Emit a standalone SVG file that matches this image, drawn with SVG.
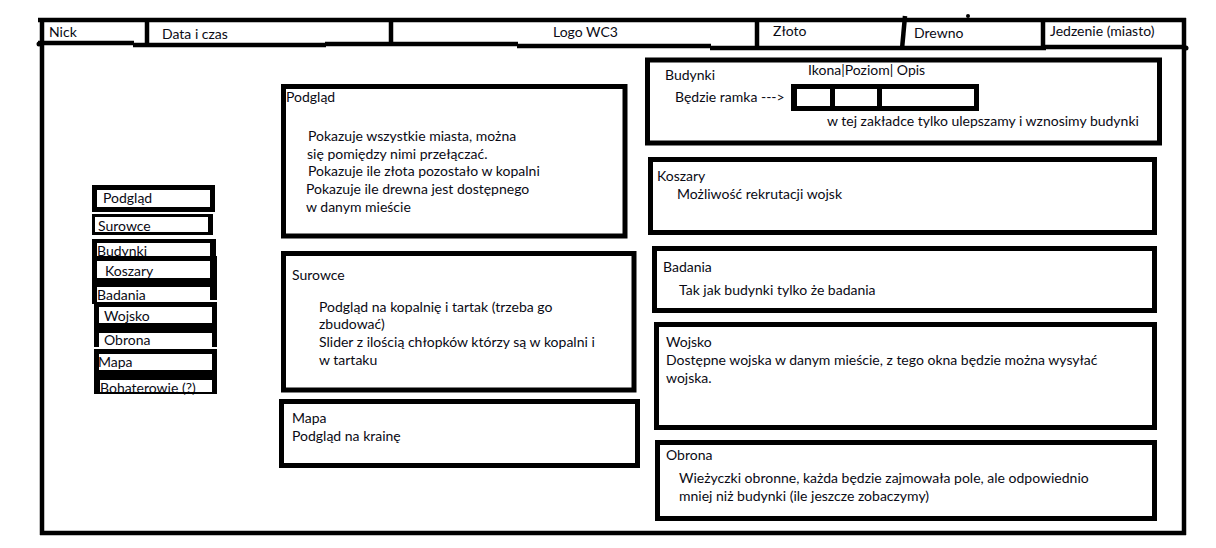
<svg xmlns="http://www.w3.org/2000/svg" width="1216" height="548" viewBox="0 0 1216 548">
<style>
.ln{stroke:#000;stroke-width:4.5;fill:none;stroke-linecap:butt}
.box{fill:#fff;stroke:#000;stroke-width:5}
.blk{fill:#000}
.wht{fill:#fff}
.t{font-family:Lato,"Liberation Sans",sans-serif;font-size:14px;fill:#0a0a14}
</style>
<rect x="0" y="0" width="1216" height="548" fill="#fff"/>

<g id="frame">
  <line class="ln" x1="38" y1="20" x2="1186" y2="20"/>
  <line class="ln" x1="42" y1="18" x2="42" y2="535"/>
  <line class="ln" x1="1184" y1="18" x2="1184" y2="535"/>
  <line class="ln" x1="40" y1="533" x2="1186" y2="533"/>
  <circle cx="39" cy="44" r="2.5" class="blk"/>
  <circle cx="968" cy="16" r="2" class="blk"/>
  <circle cx="1186" cy="48" r="2.5" class="blk"/>
</g>

<g id="topbar">
  <line class="ln" x1="38" y1="43" x2="134" y2="43"/>
  <line class="ln" x1="133" y1="45" x2="326" y2="45"/>
  <line class="ln" x1="325" y1="44" x2="518" y2="44"/>
  <line class="ln" x1="517" y1="46" x2="711" y2="46"/>
  <line class="ln" x1="710" y1="48" x2="1046" y2="48"/>
  <line class="ln" x1="1045" y1="47" x2="1186" y2="47"/>
  <line class="ln" x1="147" y1="18" x2="147" y2="45"/>
  <line class="ln" x1="391" y1="18" x2="391" y2="46"/>
  <line class="ln" x1="757" y1="18" x2="757" y2="48"/>
  <line class="ln" x1="905" y1="16" x2="902" y2="49"/>
  <line class="ln" x1="1043" y1="18" x2="1043" y2="50"/>
  <text class="t" x="49" y="37">Nick</text>
  <text class="t" x="162" y="39">Data i czas</text>
  <text class="t" x="553" y="37">Logo WC3</text>
  <text class="t" x="773" y="36">Złoto</text>
  <text class="t" x="914" y="38">Drewno</text>
  <text class="t" x="1050" y="36">Jedzenie (miasto)</text>
</g>

<g id="menu">
  <rect class="blk" x="92" y="185" width="123" height="27"/>
  <rect class="wht" x="97" y="190" width="113" height="17"/>
  <text class="t" x="103" y="203">Podgląd</text>

  <rect class="blk" x="92" y="214" width="121" height="21"/>
  <rect class="wht" x="95" y="217" width="113" height="15"/>
  <text class="t" x="98" y="231">Surowce</text>

  <rect class="blk" x="92" y="239" width="124" height="20"/>
  <rect class="wht" x="97" y="243" width="113" height="16"/>
  <text class="t" x="97" y="256">Budynki</text>

  <rect class="blk" x="92" y="256" width="125" height="44"/>
  <rect class="blk" x="92" y="296" width="5" height="8"/>
  <rect class="wht" x="97" y="261" width="113" height="17"/>
  <text class="t" x="105" y="276">Koszary</text>
  <rect class="wht" x="97" y="287" width="113" height="16"/>
  <text class="t" x="97" y="300">Badania</text>

  <rect class="blk" x="94" y="302" width="123" height="45"/>
  <rect class="wht" x="99" y="307" width="113" height="16"/>
  <text class="t" x="104" y="321">Wojsko</text>
  <rect class="wht" x="99" y="333" width="113" height="14"/>
  <text class="t" x="104" y="345">Obrona</text>

  <rect class="blk" x="94" y="349" width="123" height="45"/>
  <rect class="wht" x="99" y="354" width="113" height="16"/>
  <text class="t" x="98" y="367">Mapa</text>
  <rect class="wht" x="100" y="380" width="112" height="12"/>
  <text class="t" x="100" y="393">Bohaterowie (?)</text>
  <rect class="blk" x="97" y="392" width="120" height="2"/>
</g>

<g id="podglad">
  <rect class="box" x="283.5" y="86.5" width="341.5" height="149.5"/>
  <text class="t" x="286" y="102">Podgląd</text>
  <text class="t" x="308" y="141">Pokazuje wszystkie miasta, można</text>
  <text class="t" x="307" y="159">się pomiędzy nimi przełączać.</text>
  <text class="t" x="308" y="176">Pokazuje ile złota pozostało w kopalni</text>
  <text class="t" x="306" y="194">Pokazuje ile drewna jest dostępnego</text>
  <text class="t" x="306" y="212">w danym mieście</text>
</g>

<g id="surowce">
  <rect class="box" x="283.5" y="253.5" width="350.5" height="136.5"/>
  <text class="t" x="292" y="280">Surowce</text>
  <text class="t" x="319" y="312">Podgląd na kopalnię i tartak (trzeba go</text>
  <text class="t" x="319" y="329">zbudować)</text>
  <text class="t" x="319" y="347">Slider z ilością chłopków którzy są w kopalni i</text>
  <text class="t" x="319" y="365">w tartaku</text>
</g>

<g id="mapa">
  <rect class="box" x="281.5" y="401.5" width="356" height="64"/>
  <text class="t" x="292" y="423">Mapa</text>
  <text class="t" x="292" y="441">Podgląd na krainę</text>
</g>

<g id="budynki">
  <rect class="box" x="647.5" y="60" width="512" height="83"/>
  <text class="t" x="665" y="80">Budynki</text>
  <text class="t" x="808" y="75">Ikona|Poziom| Opis</text>
  <text class="t" x="675" y="102">Będzie ramka ---&gt;</text>
  <rect class="blk" x="791" y="84" width="188" height="27"/>
  <rect class="wht" x="797" y="89" width="33" height="17"/>
  <rect class="wht" x="835" y="89" width="42" height="17"/>
  <rect class="wht" x="882" y="89" width="92" height="17"/>
  <text class="t" x="827" y="126">w tej zakładce tylko ulepszamy i wznosimy budynki</text>
</g>

<g id="koszary">
  <rect class="box" x="650.5" y="159.5" width="504" height="73"/>
  <text class="t" x="657" y="181">Koszary</text>
  <text class="t" x="677" y="199">Możliwość rekrutacji wojsk</text>
</g>

<g id="badania">
  <rect class="box" x="654.5" y="248.5" width="500" height="62"/>
  <text class="t" x="663" y="272">Badania</text>
  <text class="t" x="679" y="295">Tak jak budynki tylko że badania</text>
</g>

<g id="wojsko">
  <rect class="box" x="656.5" y="324.5" width="498" height="103"/>
  <text class="t" x="666" y="347">Wojsko</text>
  <text class="t" x="666" y="365">Dostępne wojska w danym mieście, z tego okna będzie można wysyłać</text>
  <text class="t" x="666" y="383">wojska.</text>
</g>

<g id="obrona">
  <rect class="box" x="657.5" y="442.5" width="497" height="76"/>
  <text class="t" x="666" y="460">Obrona</text>
  <text class="t" x="679" y="483">Wieżyczki obronne, każda będzie zajmowała pole, ale odpowiednio</text>
  <text class="t" x="679" y="501">mniej niż budynki (ile jeszcze zobaczymy)</text>
</g>
</svg>
